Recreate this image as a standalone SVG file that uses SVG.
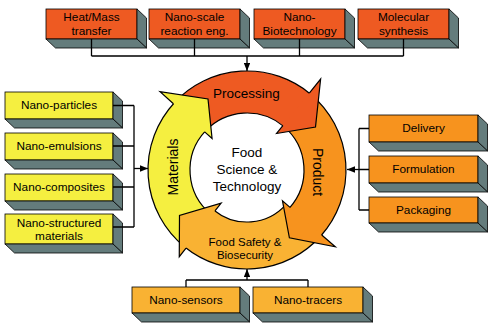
<svg xmlns="http://www.w3.org/2000/svg" width="493" height="336" viewBox="0 0 493 336">
<defs>
<marker id="ah" viewBox="0 0 10 8" refX="10" refY="4" markerWidth="8" markerHeight="6.4" markerUnits="userSpaceOnUse" orient="auto"><path d="M0,0 L10,4 L0,8 Z" fill="#000"/></marker>
</defs>
<style>
.sd{fill:#647c7c;stroke:#000;stroke-width:0.8;stroke-linejoin:round}
.fr{stroke:#000;stroke-width:0.8}
.red{fill:#ee5a22}.yel{fill:#f5ef40}.org{fill:#f7931e}.gld{fill:#f9b233}
.t{font-family:"Liberation Sans",Arial,sans-serif;font-size:11.8px;text-anchor:middle;fill:#000}
.rt{font-family:"Liberation Sans",Arial,sans-serif;font-size:13.5px;text-anchor:middle;fill:#000}
.vt{font-family:"Liberation Sans",Arial,sans-serif;font-size:14px;text-anchor:middle;fill:#000}
.ft{font-family:"Liberation Sans",Arial,sans-serif;font-size:11.5px;text-anchor:middle;fill:#000}
.edge{fill:none;stroke:#000;stroke-width:1.2;stroke-linejoin:miter}
.ln{fill:none;stroke:#000;stroke-width:1.3}
</style>
<rect width="493" height="336" fill="#fff"/>

<g id="n-center">
<path class="red" d="M174.59,102.48 A99,99 0 0 1 310.64,94.17 L283.64,126.34 A57,57 0 0 0 205.31,131.13 Z"/>
<path class="org" d="M310.64,94.17 A99,99 0 0 1 320.57,236.24 L289.36,208.14 A57,57 0 0 0 283.64,126.34 Z"/>
<path class="gld" d="M320.57,236.24 A99,99 0 0 1 184.70,246.93 L214.28,210.41 A52,52 0 0 0 285.64,204.79 Z"/>
<path class="yel" d="M184.70,246.93 A99,99 0 0 1 174.59,102.48 L205.31,131.13 A57,57 0 0 0 211.13,214.29 Z"/>
<path class="edge" d="M174.59,102.48 A99,99 0 0 1 310.64,94.17 M283.64,126.34 A57,57 0 0 0 205.31,131.13"/>
<path class="edge" d="M310.64,94.17 A99,99 0 0 1 320.57,236.24 M289.36,208.14 A57,57 0 0 0 283.64,126.34"/>
<path class="edge" d="M320.57,236.24 A99,99 0 0 1 184.70,246.93 M214.28,210.41 A52,52 0 0 0 285.64,204.79"/>
<path class="edge" d="M184.70,246.93 A99,99 0 0 1 174.59,102.48 M205.31,131.13 A57,57 0 0 0 211.13,214.29"/>
<path class="red" d="M309.30,93.07 L320.63,79.08 L315.5,127 L276.58,133.48 L282.87,125.71 Z"/>
<path class="edge" d="M309.30,93.07 L320.63,79.08 L315.5,127 L276.58,133.48 L282.87,125.71"/>
<path class="org" d="M321.72,234.95 L335.30,246.76 L289.39,237.84 L282.47,200.84 L290.02,207.40 Z"/>
<path class="edge" d="M321.72,234.95 L335.30,246.76 L289.39,237.84 L282.47,200.84 L290.02,207.40"/>
<path class="gld" d="M186.05,248.01 L179.27,256.68 L179.5,215.5 L221.14,203.10 L214.98,210.98 Z"/>
<path class="edge" d="M186.05,248.01 L179.27,256.68 L179.5,215.5 L221.14,203.10 L214.98,210.98"/>
<path class="yel" d="M173.43,103.76 L160.06,91.72 L208,99 L212.07,138.55 L204.64,131.86 Z"/>
<path class="edge" d="M173.43,103.76 L160.06,91.72 L208,99 L212.07,138.55 L204.64,131.86"/>
<text class="rt" x="246.5" y="98">Processing</text>
<text class="vt" transform="translate(313,172) rotate(90)" x="0" y="0">Product</text>
<text class="vt" transform="translate(178,167) rotate(-90)" x="0" y="0">Materials</text>
<text class="ft" x="245" y="245.5">Food Safety &amp;</text>
<text class="ft" x="245" y="258.5">Biosecurity</text>
<text class="rt" x="247" y="157">Food</text>
<text class="rt" x="247" y="174">Science &amp;</text>
<text class="rt" x="247" y="191">Technology</text>
</g>

<g id="n-heat">
<rect class="red fr" x="46" y="9" width="91" height="30"/>
<path class="sd" d="M137,9 l9.5,9 v30 l-9.5,-9 z"/>
<path class="sd" d="M46,39 h91 l9.5,9 h-91 z"/>
<text class="t" x="91.5" y="21">Heat/Mass</text>
<text class="t" x="91.5" y="35">transfer</text>
</g>
<g id="n-nanoscale">
<rect class="red fr" x="149" y="9" width="91" height="30"/>
<path class="sd" d="M240,9 l9.5,9 v30 l-9.5,-9 z"/>
<path class="sd" d="M149,39 h91 l9.5,9 h-91 z"/>
<text class="t" x="194.5" y="21">Nano-scale</text>
<text class="t" x="194.5" y="35">reaction eng.</text>
</g>
<g id="n-biotech">
<rect class="red fr" x="254" y="9" width="91" height="30"/>
<path class="sd" d="M345,9 l9.5,9 v30 l-9.5,-9 z"/>
<path class="sd" d="M254,39 h91 l9.5,9 h-91 z"/>
<text class="t" x="299.5" y="21">Nano-</text>
<text class="t" x="299.5" y="35">Biotechnology</text>
</g>
<g id="n-molecular">
<rect class="red fr" x="358" y="9" width="91" height="30"/>
<path class="sd" d="M449,9 l9.5,9 v30 l-9.5,-9 z"/>
<path class="sd" d="M358,39 h91 l9.5,9 h-91 z"/>
<text class="t" x="403.5" y="21">Molecular</text>
<text class="t" x="403.5" y="35">synthesis</text>
</g>

<g id="n-particles">
<rect class="yel fr" x="5" y="92" width="108" height="27"/>
<path class="sd" d="M113,92 l9.5,9 v27 l-9.5,-9 z"/>
<path class="sd" d="M5,119 h108 l9.5,9 h-108 z"/>
<text class="t" x="59" y="108.5">Nano-particles</text>
</g>
<g id="n-emulsions">
<rect class="yel fr" x="5" y="133" width="108" height="27"/>
<path class="sd" d="M113,133 l9.5,9 v27 l-9.5,-9 z"/>
<path class="sd" d="M5,160 h108 l9.5,9 h-108 z"/>
<text class="t" x="59" y="149.5">Nano-emulsions</text>
</g>
<g id="n-composites">
<rect class="yel fr" x="5" y="174" width="108" height="27"/>
<path class="sd" d="M113,174 l9.5,9 v27 l-9.5,-9 z"/>
<path class="sd" d="M5,201 h108 l9.5,9 h-108 z"/>
<text class="t" x="59" y="190.5">Nano-composites</text>
</g>
<g id="n-structured">
<rect class="yel fr" x="5" y="214" width="108" height="30"/>
<path class="sd" d="M113,214 l9.5,9 v30 l-9.5,-9 z"/>
<path class="sd" d="M5,244 h108 l9.5,9 h-108 z"/>
<text class="t" x="59" y="226.5">Nano-structured</text>
<text class="t" x="59" y="240">materials</text>
</g>

<g id="n-delivery">
<rect class="org fr" x="369" y="115" width="109" height="27"/>
<path class="sd" d="M478,115 l9.5,9 v27 l-9.5,-9 z"/>
<path class="sd" d="M369,142 h109 l9.5,9 h-109 z"/>
<text class="t" x="423.5" y="132">Delivery</text>
</g>
<g id="n-formulation">
<rect class="org fr" x="369" y="156" width="109" height="27"/>
<path class="sd" d="M478,156 l9.5,9 v27 l-9.5,-9 z"/>
<path class="sd" d="M369,183 h109 l9.5,9 h-109 z"/>
<text class="t" x="423.5" y="173">Formulation</text>
</g>
<g id="n-packaging">
<rect class="org fr" x="369" y="197" width="109" height="26"/>
<path class="sd" d="M478,197 l9.5,9 v26 l-9.5,-9 z"/>
<path class="sd" d="M369,223 h109 l9.5,9 h-109 z"/>
<text class="t" x="423.5" y="213.5">Packaging</text>
</g>

<g id="n-sensors">
<rect class="gld fr" x="132" y="287" width="108" height="26"/>
<path class="sd" d="M240,287 l9.5,9 v26 l-9.5,-9 z"/>
<path class="sd" d="M132,313 h108 l9.5,9 h-108 z"/>
<text class="t" x="186" y="304">Nano-sensors</text>
</g>
<g id="n-tracers">
<rect class="gld fr" x="253" y="287" width="110" height="26"/>
<path class="sd" d="M363,287 l9.5,9 v26 l-9.5,-9 z"/>
<path class="sd" d="M253,313 h110 l9.5,9 h-110 z"/>
<text class="t" x="308" y="304">Nano-tracers</text>
</g>

<g id="connectors">
<path class="ln" d="M91.5,39 V56 M194.5,39 V56 M299.5,39 V56 M403.5,39 V56 M91.5,56 H403.5"/>
<path class="ln" d="M247,56 V71" marker-end="url(#ah)"/>
<path class="ln" d="M113,105.5 H134 M113,146 H134 M113,187 H134 M113,227 H134 M134,105.5 V227"/>
<path class="ln" d="M134,168.5 H148" marker-end="url(#ah)"/>
<path class="ln" d="M369,128.5 H359 M369,169.5 H359 M369,210 H359 M359,128.5 V210"/>
<path class="ln" d="M359,169.5 H347" marker-end="url(#ah)"/>
<path class="ln" d="M186,287 V280 M308,287 V280 M186,280 H308"/>
<path class="ln" d="M247,280 V269" marker-end="url(#ah)"/>
</g>
</svg>
